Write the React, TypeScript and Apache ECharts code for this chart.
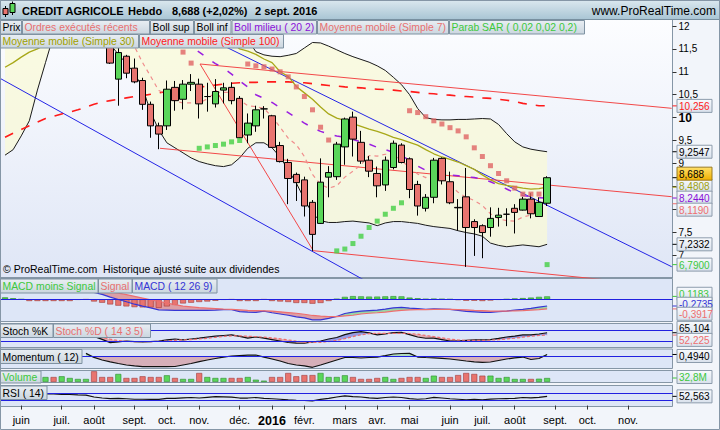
import React, { useEffect, useRef } from 'react';
import * as echarts from 'echarts';

const FONT = '"Liberation Sans", Arial, Helvetica, sans-serif';

// ---------- axis (weekly slots, Monday dated) ----------
const WEEK_SLOTS = 83;
const LAST_LABELLED_SLOT = 78;
const FIRST_WEEK_UTC = Date.UTC(2015, 4, 18);
const MONTH_NAMES = ['janv.', 'févr.', 'mars', 'avr.', 'mai', 'juin', 'juil.', 'août', 'sept.', 'oct.', 'nov.', 'déc.'];

// ---------- candles (first candle at week slot 13) ----------
const CANDLE_FIRST = 13;
const candleOpen = [12.3, 10.84, 11.34, 11.08, 10.81, 10.29, 9.82, 9.82, 10.66, 10.40, 10.73, 10.73, 10.46, 10.30, 10.60, 10.66, 10.42, 9.62, 9.82, 10.19, 10.04, 9.39, 9.02, 8.76, 8.64, 8.15, 7.69, 8.70, 8.71, 9.36, 10.01, 9.46, 9.07, 8.78, 8.53, 8.91, 9.40, 9.10, 8.54, 8.02, 8.26, 9.11, 8.60, 8.04, 8.27, 7.73, 7.64, 7.60, 7.82, 7.89, 8.02, 7.98, 8.22, 7.84, 8.13];
const candleClose = [11.19, 11.42, 10.97, 10.78, 10.29, 9.82, 9.64, 10.62, 10.37, 10.73, 10.77, 10.30, 10.46, 10.57, 10.65, 10.37, 9.56, 9.88, 10.17, 10.19, 9.35, 9.04, 8.67, 8.58, 8.07, 7.45, 8.59, 8.80, 9.42, 9.97, 9.53, 9.05, 8.83, 8.51, 9.07, 9.44, 9.02, 8.43, 8.07, 8.26, 9.07, 8.62, 8.14, 8.03, 7.60, 7.60, 7.49, 7.80, 7.87, 7.89, 7.93, 8.22, 7.90, 8.15, 8.688];
const candleLow = [11.17, 10.26, 10.86, 10.75, 10.17, 9.56, 9.31, 9.73, 10.15, 10.18, 10.58, 9.98, 10.13, 10.22, 10.31, 10.29, 9.55, 9.44, 9.69, 9.98, 9.34, 9.02, 8.11, 8.18, 7.84, 7.09, 7.68, 8.26, 8.64, 8.97, 9.15, 8.99, 8.70, 8.26, 8.40, 8.87, 9.00, 8.24, 7.86, 7.95, 8.13, 8.54, 8.11, 7.53, 6.74, 6.98, 6.93, 7.40, 7.62, 7.63, 7.47, 7.97, 7.80, 7.83, 8.07];
const candleHigh = [12.4, 11.55, 11.37, 11.29, 10.87, 10.35, 9.89, 10.81, 10.80, 10.82, 10.95, 10.85, 10.76, 10.84, 10.76, 10.77, 10.47, 10.09, 10.26, 10.25, 10.06, 9.47, 9.10, 8.80, 8.71, 8.20, 9.11, 8.94, 9.47, 10.0, 10.13, 9.71, 9.16, 8.93, 9.15, 9.50, 9.44, 9.13, 8.62, 8.33, 9.12, 9.13, 8.82, 8.22, 8.90, 7.78, 7.67, 8.04, 8.03, 8.02, 8.11, 8.27, 8.35, 8.26, 8.72];

// ---------- overlays (week slots 0..67) ----------
const bollUpper = [15.2, 15.3, 15.3, 15.2, 15.1, 15.0, 14.9, 14.8, 14.7, 14.6,
  14.5, 14.5, 14.4, 14.4, 14.3, 14.3, 14.3, 14.3, 14.3, 14.3,
  14.25, 14.1, 14.0, 13.9, 13.7, 13.5, 13.3, 13.0, 12.6, 12.2,
  11.7, 11.44, 11.37, 11.34, 11.33, 11.36, 11.40, 11.52, 11.64, 11.63,
  11.56, 11.48, 11.40, 11.33, 11.27, 11.21, 11.13, 11.03, 10.88, 10.72,
  10.50, 10.20, 10.00, 9.96, 9.95, 9.95, 9.96, 9.96, 9.97, 9.98,
  9.97, 9.85, 9.65, 9.47, 9.36, 9.31, 9.28, 9.2547];
const bollLower = [9.18, 9.3, 9.6, 9.93, 10.6, 11.2, 11.8, 12.5, 12.8, 12.9,
  12.9, 12.7, 12.3, 11.6, 11.38, 11.18, 10.97, 10.65, 10.12, 9.73,
  9.45, 9.34, 9.23, 9.12, 9.04, 8.99, 8.95, 8.93, 8.97, 9.12,
  9.33, 9.45, 9.45, 9.34, 9.14, 8.86, 8.57, 8.22, 7.90, 7.75,
  7.71, 7.71, 7.73, 7.74, 7.72, 7.70, 7.64, 7.70, 7.73, 7.73,
  7.71, 7.69, 7.65, 7.62, 7.60, 7.58, 7.53, 7.49, 7.46, 7.41,
  7.26, 7.21, 7.18, 7.20, 7.22, 7.20, 7.18, 7.2332];
const bollMiddle = [12.2, 12.33, 12.45, 12.6, 12.85, 13.1, 13.35, 13.65, 13.75, 13.75,
  13.7, 13.6, 13.35, 13.0, 12.85, 12.75, 12.65, 12.5, 12.2, 12.0,
  11.85, 11.75, 11.65, 11.55, 11.43, 11.30, 11.18, 11.08, 10.95, 10.8,
  10.67, 10.5, 10.42, 10.33, 10.22, 10.11, 9.99, 9.88, 9.78, 9.70,
  9.64, 9.60, 9.57, 9.52, 9.47, 9.42, 9.35, 9.30, 9.24, 9.17,
  9.07, 8.94, 8.85, 8.80, 8.77, 8.75, 8.73, 8.71, 8.69, 8.66,
  8.60, 8.52, 8.44, 8.36, 8.30, 8.27, 8.25, 8.244];
const ma7 = [null, null, null, null, null, null, null, null, null, null, null, null, null,
  12.4, 12.1, 11.85, 11.55, 11.2, 10.9, 10.59, 10.51, 10.36, 10.32, 10.32, 10.32, 10.41, 10.55, 10.55, 10.55,
  10.38, 10.26, 10.24, 10.20, 10.02, 9.79, 9.55, 9.41, 9.15, 8.76, 8.54, 8.46, 8.51, 8.70, 8.83, 8.97,
  9.17, 9.16, 9.20, 9.20, 9.06, 8.91, 8.77, 8.69, 8.77, 8.70, 8.52, 8.37, 8.26, 8.19, 8.08, 7.90,
  7.79, 7.75, 7.74, 7.83, 7.87, 7.97, 8.119];
const ma30 = [11.1, 11.2, 11.32, 11.43, 11.5, 11.6, 11.75, 11.9, 12.05, 12.2,
  12.3, 12.4, 12.5, 12.55, 12.6, 12.6, 12.6, 12.6, 12.55, 12.5,
  12.45, 12.4, 12.3, 12.2, 12.1, 12.0, 11.9, 11.8, 11.65, 11.50,
  11.45, 11.38, 11.28, 11.20, 11.0, 10.90, 10.68, 10.54, 10.40, 10.23,
  10.08, 9.99, 9.94, 9.87, 9.81, 9.75, 9.70, 9.64, 9.57, 9.52,
  9.46, 9.40, 9.30, 9.21, 9.14, 9.09, 9.03, 8.95, 8.87, 8.75,
  8.64, 8.56, 8.52, 8.49, 8.46, 8.44, 8.45, 8.4808];
const ma100 = [9.57, 9.66, 9.74, 9.82, 9.9, 9.98, 10.03, 10.08, 10.12, 10.17,
  10.23, 10.29, 10.34, 10.37, 10.40, 10.43, 10.46, 10.48, 10.51, 10.54,
  10.57, 10.59, 10.62, 10.64, 10.66, 10.69, 10.71, 10.73, 10.75, 10.76,
  10.77, 10.77, 10.78, 10.78, 10.78, 10.78, 10.77, 10.76, 10.74, 10.72,
  10.70, 10.69, 10.67, 10.66, 10.65, 10.63, 10.62, 10.61, 10.60, 10.58,
  10.57, 10.55, 10.53, 10.52, 10.50, 10.49, 10.47, 10.46, 10.45, 10.43,
  10.42, 10.40, 10.38, 10.35, 10.31, 10.28, 10.26, 10.256];
const sarAbove = [null, null, null, null, null, null, null, null, null, null,
  null, null, null, null, null, null, null, null, null, null,
  null, null, 11.43, 11.19, null, null, null, null, null, null,
  11.17, 11.13, 11.11, 11.06, 11.0, 10.89, 10.67, 10.46, 10.17, 9.79,
  9.51, null, null, null, null, null, null, null, null, null,
  10.15, 10.11, 10.02, 9.93, 9.86, 9.78, 9.71, 9.58, 9.34, 9.15,
  8.95, 8.78, 8.62, 8.46, 8.33, 8.33, 8.33, null];
const sarBelow = [null, null, null, null, null, null, null, null, null, null,
  null, null, null, null, null, null, null, null, null, null,
  null, null, null, null, 9.33, 9.36, 9.39, 9.42, 9.47, 9.50,
  null, null, null, null, null, null, null, null, null, null,
  null, 7.09, 7.13, 7.25, 7.41, 7.60, 7.74, 7.89, 8.02, 8.14,
  null, null, null, null, null, null, null, null, null, null,
  null, null, null, null, null, null, null, 6.79];

// trend lines drawn on the chart, in (week slot, price)
const trendBlueLow = [[-0.62, 10.858], [50, 5.903]];
const trendBlueHigh = [[24.72, 11.767], [82.4, 6.744]];
const trendRedTop = [[24.10, 11.170], [82.4, 10.203]];
const trendRedDiag = [[24.10, 11.170], [38.10, 7.094]];
const trendRedMid = [[19.15, 9.330], [82.4, 8.273]];
const trendRedLow = [[38.10, 7.094], [82.4, 6.314]];

// ---------- indicators ----------
const macdLine = [0.55, 0.52, 0.48, 0.40, 0.39, 0.38, 0.36, 0.34, 0.33, 0.37,
  0.38, 0.28, 0.20, 0.09, -0.01, -0.10, -0.20, -0.28, -0.35, -0.43,
  -0.44, -0.45, -0.45, -0.45, -0.45, -0.45, -0.44, -0.42, -0.42, -0.50,
  -0.52, -0.53, -0.48, -0.55, -0.60, -0.65, -0.72, -0.76, -0.84, -0.84,
  -0.78, -0.70, -0.58, -0.52, -0.48, -0.46, -0.44, -0.40, -0.35, -0.33,
  -0.36, -0.38, -0.41, -0.39, -0.40, -0.41, -0.45, -0.49, -0.51, -0.53,
  -0.53, -0.50, -0.48, -0.44, -0.41, -0.37, -0.32, -0.2735];
const signalLine = [0.47, 0.48, 0.48, 0.47, 0.46, 0.45, 0.43, 0.41, 0.40, 0.39,
  0.39, 0.37, 0.34, 0.30, 0.25, 0.19, 0.12, 0.05, -0.02, -0.08,
  -0.15, -0.22, -0.28, -0.31, -0.34, -0.36, -0.38, -0.40, -0.41, -0.43,
  -0.45, -0.46, -0.47, -0.48, -0.51, -0.54, -0.57, -0.61, -0.66, -0.69,
  -0.71, -0.71, -0.68, -0.65, -0.60, -0.57, -0.55, -0.52, -0.48, -0.45,
  -0.43, -0.42, -0.42, -0.41, -0.41, -0.41, -0.42, -0.43, -0.45, -0.46,
  -0.48, -0.48, -0.48, -0.47, -0.46, -0.44, -0.42, -0.3917];
const macdHist = [0.08, 0.04, 0.0, -0.07, -0.07, -0.07, -0.07, -0.07, -0.07, -0.02,
  -0.01, -0.09, -0.14, -0.21, -0.26, -0.29, -0.32, -0.33, -0.33, -0.35,
  -0.29, -0.23, -0.17, -0.14, -0.11, -0.09, -0.06, -0.02, -0.01, -0.07,
  -0.07, -0.07, -0.01, -0.07, -0.09, -0.11, -0.15, -0.15, -0.18, -0.15,
  -0.07, 0.01, 0.10, 0.13, 0.12, 0.11, 0.11, 0.12, 0.13, 0.12,
  0.07, 0.04, 0.01, 0.02, 0.01, 0.0, -0.03, -0.06, -0.06, -0.07,
  -0.05, -0.02, 0.0, 0.03, 0.05, 0.07, 0.10, 0.1183];
const stochK = [70, 75, 72, 65, 60, 62, 58, 55, 60, 65, 60, 45,
  29, 11, 15, 20, 17, 15, 17, 20, 26, 31, 26, 31, 36, 42, 47, 50, 53, 45, 36, 42, 36, 28, 20, 12, 9, 8,
  15, 20, 31, 39, 55, 66, 71, 64, 53, 58, 66, 67, 55, 42, 35, 36, 28, 20, 20, 23, 26, 26, 28, 34, 42, 47,
  53, 53, 58, 65.1];
const stochD = [68, 70, 72, 70, 67, 64, 62, 59, 58, 60, 61, 55,
  40, 30, 22, 18, 16, 16, 17, 18, 20, 24, 26, 28, 31, 35, 40, 45, 48, 48, 46, 44, 41, 37, 32, 26, 19, 14,
  12, 13, 17, 23, 33, 44, 54, 60, 62, 62, 62, 62, 61, 57, 50, 44, 37, 30, 26, 24, 23, 23, 25, 27, 31, 35,
  41, 46, 50, 52.225];
const momentum = [null, null, null, null, null, null, null, null, null, null,
  0.8, -0.3, -1.0, -1.5, -1.95, -2.35, -2.6, -2.8, -2.8, -2.8,
  -2.8, -2.75, -2.35, -1.95, -1.46, -1.0, -0.6, -0.2, 0.08, 0.2,
  0.3, 0.35, -0.2, -0.73, -1.27, -1.95, -2.35, -2.6, -2.97, -2.35,
  -1.68, -1.0, -0.32, -0.32, -0.46, -0.32, -0.2, 0.2, 0.62, 0.76,
  0.8, -0.2, -0.32, -0.4, -0.54, -0.73, -1.0, -1.27, -1.5, -1.62,
  -1.54, -1.13, -0.73, -0.4, -0.2, -0.86, -0.6, 0.494];
const volumeM = [null, null, null, null, null,
  41, 41, 47, 33, 25, 25, 88, 41, 41, 66, 33, 33, 47, 41, 41, 55, 33, 25, 25, 74, 41, 33, 33, 33, 33,
  41, 19, 11, 41, 41, 74, 47, 57, 57, 74, 41, 41, 55, 41, 25, 25, 33, 41, 25, 33, 41, 41, 33, 52, 41,
  41, 57, 74, 66, 52, 52, 33, 41, 25, 25, 25, 27, 32.8];
const volumeUp = [1, 1, 1, 1, 1, 1, 0, 1, 1, 1, 1, 0, 0, 0, 1, 0, 0, 0, 0, 0,
  1, 0, 1, 1, 0, 1, 1, 1, 0, 0, 1, 1, 1, 0, 0, 0, 0, 0, 0, 1,
  1, 1, 1, 0, 0, 0, 0, 1, 1, 0, 0, 0, 1, 1, 0, 0, 0, 0, 0, 0,
  1, 1, 1, 1, 1, 0, 1, 1];
const rsi = [65, 67, 66, 64, 66,
  66, 66, 64, 63, 61, 60, 49, 43, 40, 41, 39, 36, 36, 35, 35, 41, 41, 44, 46, 43, 47, 51, 50, 48, 43,
  43, 46, 41, 39, 36, 32, 30, 29, 27, 35, 41, 49, 55, 51, 49, 44, 41, 46, 49, 46, 40, 36, 39, 47, 43,
  39, 36, 33, 35, 33, 37, 39, 40, 41, 46, 44, 47, 52.563];

// value tags at the right edge
const mainTags = [
  { value: 10.256, text: '10,256', key: 'ma100' },
  { value: 9.2547, text: '9,2547', key: 'boll' },
  { value: 7.2332, text: '7,2332', key: 'boll' },
  { value: 6.79, text: '6,7900', key: 'sar' },
  { value: 8.4808, text: '8,4808', key: 'ma30' },
  { value: 8.244, text: '8,2440', key: 'mid' },
  { value: 8.119, text: '8,1190', key: 'ma7' },
  { value: 8.688, text: '8,688', key: 'price' },
];
const macdTags = [
  { value: 0.1183, text: '0,1183', key: 'hist' },
  { value: -0.2735, text: '-0,2735', key: 'macd' },
  { value: -0.3917, text: '-0,3917', key: 'signal' },
];
const stochTags = [
  { value: 65.1, text: '65,104', key: 'k' },
  { value: 52.225, text: '52,225', key: 'd' },
];
const momTags = [{ value: 0.494, text: '0,4940', key: 'k' }];
const volTags = [{ value: 32.8, text: '32,8M', key: 'sar' }];
const rsiTags = [{ value: 52.563, text: '52,563', key: 'k' }];

const TAG_COLORS: any = {
  ma100: '#ff1a1a', boll: '#000000', sar: '#3cc83c', ma30: '#a0a010', mid: '#8a10d8', ma7: '#ee6e6e',
  price: '#000000', hist: '#3cc83c', macd: '#3535d5', signal: '#ee6e6e', k: '#000000', d: '#ee6e6e',
};

const C = {
  up: '#5ad65a', down: '#e8746f', blue: '#2424e6', red: '#f24848', ref: '#2020e0',
};

function pad(arr: any[]) {
  const out = arr.slice();
  while (out.length < WEEK_SLOTS) out.push(null);
  return out;
}

// price-axis labels that sit under a value tag are not drawn (they are hidden in the original)
function coveredByTag(v: number) {
  return mainTags.some((t) => Math.abs(t.value - v) < 0.13);
}

function buildOption() {
  const weeks: string[] = [];
  for (let i = 0; i < WEEK_SLOTS; i++) weeks.push(new Date(FIRST_WEEK_UTC + i * 7 * 86400000).toISOString().slice(0, 10));
  const firstOfMonth = (i: number, v: string) => Number(v.slice(8, 10)) <= 7 && i <= LAST_LABELLED_SLOT;

  const candles = candleOpen.map((o, k) => [CANDLE_FIRST + k, o, candleClose[k], candleLow[k], candleHigh[k]]);
  const bbBand = bollUpper.map((u, i) => +(u - bollLower[i]).toFixed(4));
  const macdBase = macdLine.map((m, i) => Math.min(m, signalLine[i]));
  const macdRed = macdLine.map((m, i) => +Math.max(signalLine[i] - m, 0).toFixed(4));
  const macdGreen = macdLine.map((m, i) => +Math.max(m - signalLine[i], 0).toFixed(4));
  const stBase = stochK.map((k, i) => Math.min(k, stochD[i]));
  const stRed = stochK.map((k, i) => Math.max(stochD[i] - k, 0));
  const stBlue = stochK.map((k, i) => Math.max(k - stochD[i], 0));
  const momNeg = momentum.map((m) => (m == null ? null : Math.min(m, 0)));
  const momPos = momentum.map((m) => (m == null ? null : Math.max(m, 0)));

  const L = 1, W = 671.5;
  const grids = [
    { left: L, width: W, top: 19.13, height: 258.77 },
    { left: L, width: W, top: 278.475, height: 42.875 },
    { left: L, width: W, top: 324.46, height: 22.08 },
    { left: L, width: W, top: 349.46, height: 18.685 },
    { left: L, width: W, top: 370.5, height: 11.5 },
    { left: L, width: W, top: 385.6, height: 20.825 },
  ];
  const catAxis = (g: number, show = false) => ({
    type: 'category', gridIndex: g, data: weeks, boundaryGap: true, show,
    axisLine: { show: false },
    axisTick: { show: show, interval: firstOfMonth, alignWithLabel: true, length: 4, lineStyle: { color: '#333' } },
    axisLabel: {
      show: show, interval: firstOfMonth, margin: 8, fontSize: 11, fontFamily: FONT, color: '#000',
      formatter: (v: string) => {
        const m = Number(v.slice(5, 7));
        return m === 1 ? '{y|' + v.slice(0, 4) + '}' : MONTH_NAMES[m - 1];
      },
      rich: { y: { fontSize: 12.5, fontWeight: 'bold', fontFamily: FONT, color: '#000' } },
    },
    splitLine: { show: false },
  });
  const hiddenY = (g: number, min: number, max: number) => ({ type: 'value', gridIndex: g, min, max, show: false, splitLine: { show: false } });

  const line = (data: any[], color: string, width: number, type: any, extra: any = {}) => ({
    type: 'line', data: pad(data), symbol: 'none', showSymbol: false, silent: true, connectNulls: false,
    lineStyle: { color, width, type }, z: 3, ...extra,
  });
  const fill = (data: any[], stack: string, color: string | null, g: number, extra: any = {}) => ({
    type: 'line', data: pad(data), stack, stackStrategy: 'all', symbol: 'none', showSymbol: false, silent: true,
    lineStyle: { width: 0, opacity: 0 }, areaStyle: color ? { color, opacity: 1 } : undefined,
    xAxisIndex: g === 0 ? 0 : g + 1, yAxisIndex: g, z: 2, ...extra,
  });
  const trend = (data: number[][], color: string) => ({
    type: 'line', data, xAxisIndex: 1, yAxisIndex: 0, symbol: 'none', showSymbol: false, silent: true,
    lineStyle: { color, width: 1 }, z: 3,
  });
  const refLine = (vals: number[]) => ({
    silent: true, symbol: 'none', label: { show: false },
    lineStyle: { color: C.ref, width: 1, type: 'solid' },
    data: vals.map((v) => ({ yAxis: v })),
  });

  const series: any[] = [
    fill(bollLower, 'bb', null, 0),
    fill(bbBand, 'bb', 'rgba(250,250,214,0.72)', 0),
    line(bollUpper, '#1a1a1a', 1, 'solid'),
    line(bollLower, '#1a1a1a', 1, 'solid'),
    trend(trendBlueLow, C.blue),
    trend(trendBlueHigh, C.blue),
    trend(trendRedTop, C.red),
    trend(trendRedDiag, C.red),
    trend(trendRedMid, C.red),
    trend(trendRedLow, C.red),
    line(ma100, '#ff1a1a', 1.6, [9, 9]),
    line(ma30, '#a8a818', 1.3, 'solid'),
    line(bollMiddle, '#9a1ee0', 1.5, [7, 11]),
    line(ma7, '#f08c8c', 1.2, [4, 4]),
    {
      type: 'candlestick', xAxisIndex: 0, yAxisIndex: 0, data: candles, encode: { x: 0, y: [1, 2, 3, 4] },
      barWidth: 7, silent: true, z: 5,
      itemStyle: { color: C.up, color0: C.down, borderColor: '#000', borderColor0: '#000', borderColorDoji: '#000', borderWidth: 1 },
    },
    { type: 'scatter', data: pad(sarAbove), symbol: 'rect', symbolSize: 5, silent: true, itemStyle: { color: '#e06464' }, z: 6 },
    { type: 'scatter', data: pad(sarBelow), symbol: 'rect', symbolSize: 5, silent: true, itemStyle: { color: '#44d044' }, z: 6 },

    fill(macdBase, 'md', null, 1),
    fill(macdRed, 'md', 'rgba(222,110,110,0.6)', 1),
    fill(macdGreen, 'md', 'rgba(100,200,100,0.55)', 1),
    {
      type: 'bar', xAxisIndex: 2, yAxisIndex: 1, barWidth: 6, silent: true, z: 3,
      data: pad(macdHist.map((v) => ({ value: v, itemStyle: { color: v >= 0 ? C.up : C.down, borderColor: v >= 0 ? '#2e8a2e' : '#a03a3a', borderWidth: 0.6 } }))),
      markLine: refLine([0]),
    },
    line(macdLine, '#3535d5', 1.2, 'solid', { xAxisIndex: 2, yAxisIndex: 1, z: 4 }),
    line(signalLine, '#ee6e6e', 1.2, 'solid', { xAxisIndex: 2, yAxisIndex: 1, z: 4 }),

    fill(stBase, 'st', null, 2),
    fill(stRed, 'st', 'rgba(230,120,120,0.55)', 2),
    fill(stBlue, 'st', 'rgba(80,80,210,0.5)', 2),
    line(stochK, '#111', 1.2, 'solid', { xAxisIndex: 3, yAxisIndex: 2, z: 4, markLine: refLine([80, 20]) }),
    line(stochD, '#ee6e6e', 1.2, [3, 2], { xAxisIndex: 3, yAxisIndex: 2, z: 4 }),

    line(momNeg, 'rgba(0,0,0,0)', 0, 'solid', { xAxisIndex: 4, yAxisIndex: 3, areaStyle: { color: 'rgba(205,100,100,0.6)' }, z: 2 }),
    line(momPos, 'rgba(0,0,0,0)', 0, 'solid', { xAxisIndex: 4, yAxisIndex: 3, areaStyle: { color: 'rgba(100,200,100,0.55)' }, z: 2 }),
    line(momentum, '#111', 1.2, 'solid', { xAxisIndex: 4, yAxisIndex: 3, z: 4, markLine: refLine([0]) }),

    {
      type: 'bar', xAxisIndex: 5, yAxisIndex: 4, barWidth: 6, silent: true, z: 3,
      data: pad(volumeM.map((v, i) => (v == null ? null : {
        value: v, itemStyle: { color: volumeUp[i] ? C.up : C.down, borderColor: volumeUp[i] ? '#2e8a2e' : '#a03a3a', borderWidth: 0.6 },
      }))),
    },

    line(rsi, '#111', 1.2, 'solid', { xAxisIndex: 6, yAxisIndex: 5, z: 4, markLine: refLine([70, 30]) }),
  ];

  return {
    animation: false,
    backgroundColor: 'transparent',
    grid: grids,
    xAxis: [
      catAxis(0),
      { type: 'value', gridIndex: 0, min: -0.5, max: 82.5, show: false },
      catAxis(1), catAxis(2), catAxis(3), catAxis(4), catAxis(5, true),
    ],
    yAxis: [
      {
        type: 'value', gridIndex: 0, position: 'right', min: 6.5, max: 12.15, interval: 0.5,
        axisLine: { show: true, onZero: false, lineStyle: { color: '#8596a6' } },
        axisTick: { show: true, length: 4, lineStyle: { color: '#333' } },
        splitLine: { show: false },
        axisLabel: {
          margin: 6, fontSize: 10, fontFamily: FONT, color: '#000', showMinLabel: false, showMaxLabel: false,
          formatter: (v: number) => (coveredByTag(v) ? '' : v === 10 ? '{b|10}' : String(v).replace('.', ',')),
          rich: { b: { fontSize: 12, fontWeight: 'bold', fontFamily: FONT, color: '#000' } },
        },
      },
      hiddenY(1, -0.9, 0.85),
      hiddenY(2, -10, 110),
      hiddenY(3, -3.2, 1.85),
      hiddenY(4, 0, 94.3),
      hiddenY(5, -5, 114),
    ],
    series,
  };
}

function buildGraphics(chart: any) {
  const G: any = (echarts as any).graphic;
  const grad = (a: string, b: string) => new G.LinearGradient(0, 0, 0, 1, [{ offset: 0, color: a }, { offset: 1, color: b }]);
  const els: any[] = [];
  const rect = (x: number, y: number, w: number, h: number, fill: any, stroke: string | null, z: number) =>
    els.push({ type: 'rect', z, silent: true, shape: { x, y, width: w, height: h }, style: { fill, stroke: stroke || 'none', lineWidth: 1 } });
  const text = (x: number, y: number, t: string, fill: string, font: string, z: number, align = 'left') =>
    els.push({ type: 'text', z, silent: true, x, y, style: { text: t, fill, font, textAlign: align, textVerticalAlign: 'middle' } });
  const seg = (x1: number, y1: number, x2: number, y2: number, stroke: string, z: number) =>
    els.push({ type: 'line', z, silent: true, shape: { x1, y1, x2, y2 }, style: { stroke, lineWidth: 1 } });

  const BORDER = '#8596a6';
  rect(0, 0, 720, 430, '#f2f5fa', null, -30);
  rect(0.5, 19.5, 672, 258, grad('#fcfdff', '#dfe6f6'), BORDER, -20);
  rect(0.5, 278.5, 672, 43, '#dde6f7', BORDER, -20);
  rect(0.5, 323.5, 672, 24, '#dde6f7', BORDER, -20);
  rect(0.5, 349, 672, 19.5, '#dde6f7', BORDER, -20);
  rect(0.5, 370.5, 672, 12, '#dde6f7', BORDER, -20);
  rect(0.5, 385.5, 672, 21, '#dde6f7', BORDER, -20);

  // title bar
  rect(0, 0, 720, 19.5, grad('#dbe8ef', '#a9c5d4'), '#7890a0', 200);
  seg(5.5, 6, 5.5, 17, '#000', 201);
  rect(3, 8.5, 5, 6, C.down, '#000', 202);
  seg(12.5, 1.5, 12.5, 15, '#000', 201);
  rect(10, 3.5, 5, 9, C.up, '#000', 202);
  const TB = 'bold 11px ' + FONT;
  text(22, 10.5, 'CREDIT AGRICOLE', '#000', TB, 203);
  text(128, 10.5, 'Hebdo', '#000', TB, 203);
  text(172, 10.5, '8,688 (+2,02%)', '#000', TB, 203);
  text(255, 10.5, '2 sept. 2016', '#000', TB, 203);
  text(716, 10.5, 'www.ProRealTime.com', '#000', '12px ' + FONT, 203, 'right');

  // legend boxes
  const LF = '10.4px ' + FONT;
  const box = (x1: number, x2: number, y: number, h: number, t: string, color: string) => {
    rect(x1, y, x2 - x1, h, grad('#e9eef3', '#cbd6df'), '#7f92a2', 150);
    text(x1 + 2, y + h / 2 + 0.5, t, color, LF, 151);
  };
  box(0.5, 21.5, 20.5, 13.5, 'Prix', '#000');
  box(22.5, 149.5, 20.5, 13.5, 'Ordres exécutés récents', '#e87070');
  box(150.5, 193.5, 20.5, 13.5, 'Boll sup', '#000');
  box(194.5, 231, 20.5, 13.5, 'Boll inf', '#000');
  box(232, 316.5, 20.5, 13.5, 'Boll milieu ( 20 2)', '#8a10d8');
  box(317.5, 448.5, 20.5, 13.5, 'Moyenne mobile (Simple 7)', '#e87070');
  box(449.5, 584.5, 20.5, 13.5, 'Parab SAR ( 0,02 0,02 0,2)', '#3cc83c');
  box(0.5, 138.5, 34.5, 13.5, 'Moyenne mobile (Simple 30)', '#a0a000');
  box(139.5, 283.5, 34.5, 13.5, 'Moyenne mobile (Simple 100)', '#ff1a1a');
  box(0.5, 98, 279, 14, 'MACD moins Signal', '#3cc83c');
  box(98.5, 132, 279, 14, 'Signal', '#e87070');
  box(132.5, 217, 279, 14, 'MACD ( 12 26 9)', '#3535d5');
  box(0.5, 53, 324, 13.5, 'Stoch %K', '#000');
  box(53.5, 150.5, 324, 13.5, 'Stoch %D ( 14 3 5)', '#e87070');
  box(0.5, 82, 349.5, 14, 'Momentum ( 12)', '#000');
  box(0.5, 41, 371, 12, 'Volume', '#3cc83c');
  box(0.5, 47, 386, 13.5, 'RSI ( 14)', '#000');

  text(3, 269, '© ProRealTime.com  Historique ajusté suite aux dividendes', '#000', '10.5px ' + FONT, 120);

  // value tags
  let zTag = 300;
  const tags = (defs: any[], axis: number, lo: number, hi: number, gap: number) => {
    const items = defs.map((d) => ({ ...d, y0: chart.convertToPixel({ yAxisIndex: axis }, d.value) as number, y: 0 }));
    items.forEach((it) => (it.y = it.y0));
    const order = items.slice().sort((a, b) => a.y0 - b.y0);
    for (let n = 0; n < 200; n++) {
      for (let k = 0; k < order.length - 1; k++) {
        const a = order[k], b = order[k + 1];
        const d = b.y - a.y;
        if (d < gap) { const s = (gap - d) / 2; a.y -= s; b.y += s; }
      }
      order.forEach((o) => (o.y = Math.max(lo, Math.min(hi, o.y))));
    }
    items.forEach((it) => {
      const col = TAG_COLORS[it.key];
      const gold = it.key === 'price';
      seg(672.5, it.y0, 677, it.y0, col, zTag++);
      rect(677, it.y - 6.5, 35, 13, gold ? grad('#ffe06a', '#f0b000') : grad('#f8fafd', '#d9e1ec'), gold ? '#9a7a20' : '#8d9cac', zTag++);
      text(679, it.y + 0.5, it.text, col, '10px ' + FONT, zTag++);
    });
  };
  tags(mainTags, 0, 27, 270, 12);
  tags(macdTags, 1, 285, 315, 10);
  tags(stochTags, 2, 327.5, 340.5, 12);
  tags(momTags, 3, 356, 362, 10);
  tags(volTags, 4, 376, 377, 10);
  tags(rsiTags, 5, 392, 400, 10);

  rect(0.5, 0.5, 719, 429, 'none', '#8596a6', 400);
  return els;
}

export default function App() {
  const ref = useRef<HTMLDivElement>(null);
  useEffect(() => {
    const el = ref.current;
    if (!el) return;
    const chart = echarts.init(el, null as any, { renderer: 'svg' });
    chart.setOption(buildOption() as any);
    chart.setOption({ graphic: { elements: buildGraphics(chart) } } as any);
    return () => chart.dispose();
  }, []);
  return <div ref={ref} style={{ position: 'absolute', left: 0, top: 0, width: 720, height: 430 }} />;
}
